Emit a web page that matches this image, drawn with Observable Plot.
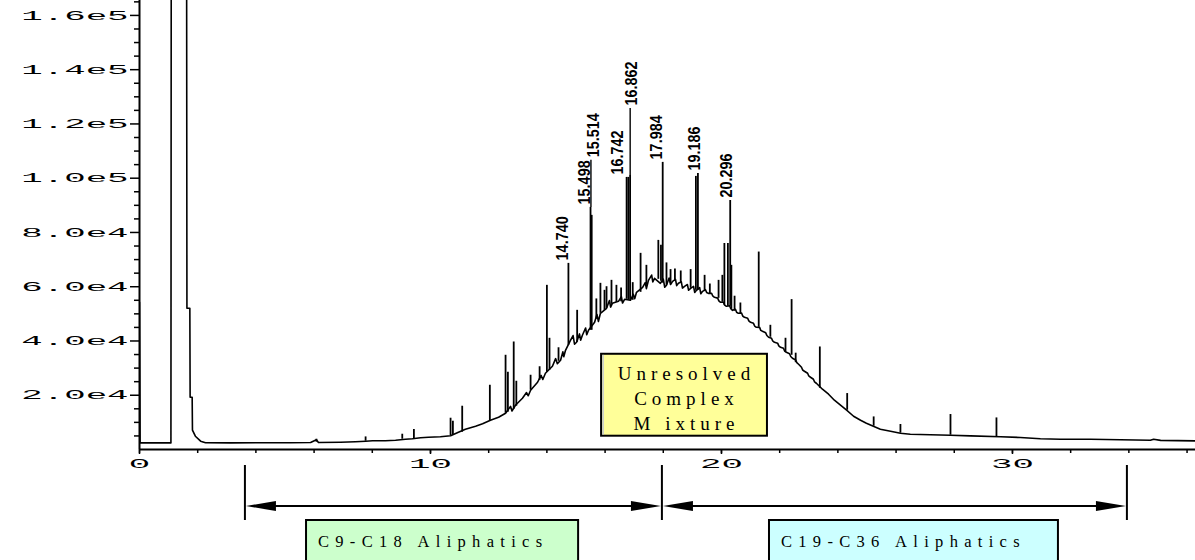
<!DOCTYPE html>
<html>
<head>
<meta charset="utf-8">
<script src="https://cdn.jsdelivr.net/npm/d3@7"></script>
<script src="https://cdn.jsdelivr.net/npm/@observablehq/plot@0.6"></script>
<style>
html, body { margin: 0; padding: 0; background: #fff; }
#wrap { position: relative; width: 1195px; height: 560px; overflow: hidden; }
</style>
</head>
<body>
<div id="wrap"></div>
<script>
// ---------------- DATA ----------------
// Chromatogram trace: retention time (min) and abundance
const traceRt = [0, 0.02, 0.38, 0.72, 1.08, 1.09, 1.62, 1.63, 1.73, 1.74,
  1.81, 1.82, 1.92, 2.10, 2.27, 3.13, 4.16, 5.19, 5.88, 6.08,
  6.15, 6.91, 7.42, 7.77, 8.01, 8.45, 8.80, 9.14, 9.38, 9.66,
  9.93, 10.34, 10.69, 10.96, 11.20, 11.55, 11.79, 12.06, 12.34, 12.58,
  12.75, 12.80, 12.92, 13.16, 13.30, 13.36, 13.44, 13.68, 13.80, 13.86,
  13.95, 14.19, 14.30, 14.36, 14.47, 14.55, 14.58, 14.64, 14.81, 14.90,
  14.95, 15.02, 15.12, 15.16, 15.22, 15.33, 15.37, 15.43, 15.64, 15.72,
  15.77, 15.84, 16.05, 16.15, 16.19, 16.25, 16.46, 16.56, 16.60, 16.67,
  16.87, 16.97, 17.02, 17.08, 17.29, 17.38, 17.42, 17.49, 17.60, 17.64,
  17.70, 17.90, 18.00, 18.05, 18.11, 18.20, 18.25, 18.32, 18.42, 18.46,
  18.52, 18.62, 18.66, 18.73, 18.83, 18.87, 18.94, 19.04, 19.08, 19.14,
  19.25, 19.29, 19.35, 19.45, 19.49, 19.55, 19.66, 19.70, 19.76, 19.87,
  19.91, 19.97, 20.07, 20.11, 20.17, 20.28, 20.32, 20.38, 20.48, 20.52,
  20.58, 20.69, 20.73, 20.79, 20.90, 20.94, 21.00, 21.10, 21.14, 21.20,
  21.31, 21.35, 21.41, 21.52, 21.56, 21.62, 21.72, 21.76, 21.82, 21.93,
  21.97, 22.03, 22.13, 22.17, 22.23, 22.34, 22.38, 22.44, 22.55, 22.59,
  22.65, 22.75, 22.79, 22.85, 22.96, 23.00, 23.06, 23.16, 23.20, 23.26,
  23.47, 23.68, 23.88, 24.09, 24.30, 24.54, 24.78, 24.98, 25.22, 25.46,
  25.81, 26.15, 26.49, 27.18, 27.87, 28.56, 29.59, 30.27, 30.96, 31.65,
  32.68, 33.71, 34.74, 34.85, 35.09, 36.29];
const traceAbund = [54250, 2430, 2500, 2430, 2430, 170000, 170000, 52040, 52040, 19260,
  19260, 7110, 4900, 3060, 2500, 2430, 2500, 2500, 2580, 3610,
  2580, 2690, 2870, 3060, 3240, 3240, 3430, 3790, 3980, 4350,
  4530, 4710, 5080, 6370, 7480, 8580, 9500, 10790, 11900, 13370,
  15900, 14200, 16320, 18890, 21000, 19800, 21840, 24790, 27300, 25800,
  28100, 30680, 33500, 31600, 32890, 36000, 34200, 36570, 40260, 42000,
  38800, 39520, 42600, 40300, 42100, 44800, 42300, 43940, 46880, 49800,
  47200, 50200, 52040, 54900, 52500, 53880, 54620, 56300, 54000, 55350,
  54990, 57200, 55600, 57930, 59780, 61500, 59300, 62350, 64300, 61800,
  63090, 61250, 62800, 59800, 60510, 63200, 60800, 61980, 62700, 60400,
  61250, 61800, 59500, 60140, 60800, 58700, 59410, 60100, 57900, 58670,
  59700, 57400, 58300, 58900, 57900, 57560, 57600, 56600, 56090, 55800,
  54800, 54250, 54300, 53200, 52780, 53000, 51900, 51300, 51700, 50600,
  50200, 50300, 49200, 48730, 48400, 47400, 46880, 46500, 45500, 45040,
  45000, 43900, 43570, 43000, 42000, 41360, 41000, 40000, 39520, 39200,
  38200, 37680, 37300, 36300, 35840, 35300, 34300, 33630, 33000, 32000,
  31420, 30300, 29300, 28840, 28100, 27100, 26630, 25900, 24900, 24420,
  22210, 20370, 18160, 16320, 14470, 12260, 10790, 9690, 8580, 7480,
  6740, 6000, 5630, 5450, 5270, 5010, 4710, 4420, 3980, 3790,
  3790, 3610, 3430, 3790, 3350, 3170];

// Resolved peaks standing on the hump: retention time, base and apex abundance
const spikeRt = [6.08, 7.77, 9.03, 9.43, 10.69, 10.77, 11.09, 12.04, 12.58, 12.66,
  12.86, 12.95, 13.44, 13.75, 14.00, 14.09, 14.40, 14.74, 15.04, 15.50,
  15.54, 15.70, 15.84, 15.98, 16.05, 16.22, 16.39, 16.55, 16.74, 16.80,
  16.86, 16.95, 17.22, 17.42, 17.83, 17.92, 17.98, 18.11, 18.25, 18.40,
  18.60, 18.94, 19.12, 19.19, 19.42, 19.60, 19.90, 20.03, 20.10, 20.22,
  20.30, 20.34, 20.45, 20.65, 21.28, 21.68, 22.20, 22.41, 22.55, 23.38,
  24.32, 25.23, 26.15, 27.87, 29.45];
const spikeBase = [2690, 3060, 3790, 3980, 5080, 5270, 6370, 10420, 13370, 13740,
  14840, 15950, 21840, 25500, 28470, 29210, 32500, 38410, 39520, 43940,
  43940, 48000, 50200, 51300, 52000, 53510, 54250, 54500, 55350, 54990,
  54990, 55000, 57930, 60520, 62730, 62030, 61300, 60520, 61250, 62000,
  61300, 59410, 58670, 58670, 58300, 57500, 55720, 54250, 53150, 52780,
  52780, 51670, 51000, 50000, 45040, 41360, 36000, 34730, 32000, 22580,
  14470, 8580, 6000, 5270, 4710];
const spikeTop = [3790, 4640, 5630, 7370, 11530, 10420, 15950, 23680, 34730, 28470,
  39630, 25150, 27370, 30500, 60510, 40990, 37500, 68600, 51300, 89240,
  86300, 55500, 61250, 58670, 60000, 62350, 60510, 59500, 100290, 100290,
  101020, 61500, 72300, 67880, 77080, 75240, 105830, 68780, 66310, 66500,
  65800, 66310, 100660, 101760, 64190, 61000, 62350, 64190, 75940, 75940,
  91790, 67880, 56500, 54000, 72780, 45780, 41000, 55250, 35500, 37790,
  20620, 12010, 9210, 12890, 11640];

// Labelled peaks
const peakLabels = ["14.740", "15.498", "15.514", "16.742", "16.862", "17.984", "19.186", "20.296"];
const peakRt = [14.740, 15.498, 15.514, 16.742, 16.862, 17.984, 19.186, 20.296];
const peakTop = [68600, 89240, 89240, 100290, 101020, 105830, 101760, 91790];
const labelLevel = [68600, 89240, 106600, 100290, 125700, 105830, 101760, 91790];

// Axis ticks
const yTickValues = [20000, 40000, 60000, 80000, 100000, 120000, 140000, 160000];
const yTickLabels = ["2.0e4", "4.0e4", "6.0e4", "8.0e4", "1.0e5", "1.2e5", "1.4e5", "1.6e5"];
const yMinorTicks = [5000, 10000, 15000, 25000, 30000, 35000, 45000, 50000, 55000, 65000, 70000, 75000,
  85000, 90000, 95000, 105000, 110000, 115000, 125000, 130000, 135000, 145000, 150000, 155000, 165000];
const xTickValues = [0, 10, 20, 30];
const xTickLabels = ["0", "10", "20", "30"];
const xMinorTicks = [0, 2, 4, 6, 8, 10, 12, 14, 16, 18, 20, 22, 24, 26, 28, 30, 32, 34, 36];

// Carbon range annotations (retention-time bounds)
const rangeNames = ["C9-C18 Aliphatics", "C19-C36 Aliphatics"];
const rangeStart = [3.64, 17.97];
const rangeEnd = [17.97, 33.95];
const rangeBoxStart = [5.74, 21.65];
const rangeBoxEnd = [15.09, 31.58];
const rangeFill = ["#ccffcc", "#ccffff"];
const ucmLines = ["Unresolved", "Complex", "M ixture"];
const ucmRtStart = 15.88, ucmRtEnd = 21.58, ucmHigh = 35100, ucmLow = 4900;

// ---------------- BUILD ----------------
const trace = traceRt.map((t, i) => ({t, a: traceAbund[i]}));
const spikes = spikeRt.map((t, i) => ({t, b: spikeBase[i], a: spikeTop[i]}));
const peaks = peakLabels.map((label, i) => ({label, t: peakRt[i], top: peakTop[i], lv: labelLevel[i]}));
const labelNudge = {"15.514": 8, "16.862": 7, "16.742": -4, "17.984": -1, "19.186": 2, "20.296": 2};

const axisFont = "Liberation Mono, DejaVu Sans Mono, monospace";
const peakFont = "Liberation Sans, Arial, sans-serif";

const chart = Plot.plot({
  width: 1195,
  height: 560,
  marginLeft: 139,
  marginRight: 0,
  marginTop: 0,
  marginBottom: 111,
  style: {background: "white", color: "black", overflow: "hidden"},
  x: {domain: [0, 36.29]},
  y: {domain: [0, 165500]},
  marks: [
    Plot.axisX({ticks: xMinorTicks, tickSize: 4, tickFormat: () => "", label: null, strokeWidth: 1.5}),
    Plot.axisX({ticks: xTickValues, tickSize: 5, tickPadding: 4, tickFormat: d => xTickLabels[xTickValues.indexOf(d)], label: null, strokeWidth: 1.5, fontSize: 13}),
    Plot.axisY({ticks: yMinorTicks, tickSize: 5, tickFormat: () => "", label: null, strokeWidth: 1.5}),
    Plot.axisY({ticks: yTickValues, tickSize: 9, tickPadding: 2, tickFormat: d => yTickLabels[yTickValues.indexOf(d)], label: null, strokeWidth: 1.5, fontSize: 13}),
    Plot.ruleY([0], {stroke: "black", strokeWidth: 2}),
    Plot.ruleX([0], {stroke: "black", strokeWidth: 2}),
    Plot.ruleX(spikes, {x: "t", y1: "b", y2: "a", stroke: "black", strokeWidth: 1.8, clip: true}),
    Plot.line(trace, {x: "t", y: "a", stroke: "black", strokeWidth: 1.6, clip: true}),
    Plot.ruleX(peaks.filter(d => d.lv > d.top), {x: "t", y1: "top", y2: "lv", stroke: "black", strokeWidth: 1.4}),
    ...peaks.map(p => Plot.text([p], {
      x: "t", y: "lv", text: "label", rotate: -90, textAnchor: "start", lineAnchor: "bottom",
      dx: labelNudge[p.label] || 0, dy: -3, fontSize: 16, fontWeight: "bold", fontFamily: peakFont, fill: "black"
    }))
  ]
});

document.getElementById("wrap").appendChild(chart);

// stretch axis tick labels horizontally (wide plotter-style lettering)
function stretch(el, sx) {
  const t = el.getAttribute("transform") || "";
  const x = parseFloat(el.getAttribute("x")) || 0;
  el.setAttribute("transform", `${t} translate(${x},0) scale(${sx},1) translate(${-x},0)`);
}
d3.select(chart).selectAll('[aria-label^="y-axis"] text, [aria-label^="x-axis"] text').each(function() {
  this.style.fontFamily = axisFont;
  this.style.fontSize = "13px";
  stretch(this, 2.75);
});
// condense the rotated peak labels along their length
d3.select(chart).selectAll("text").each(function() {
  const t = this.getAttribute("transform") || "";
  if (t.includes("rotate(-90)")) this.setAttribute("transform", t + " scale(0.9,1)");
});

// ---------------- ANNOTATIONS (positioned through Plot's scales) ----------------
const X = chart.scale("x"), Y = chart.scale("y");
const svg = d3.select(chart);
const ann = svg.append("g").attr("class", "annotations").attr("text-anchor", "start");

// UCM box
const ux1 = X.apply(ucmRtStart), ux2 = X.apply(ucmRtEnd);
const uy1 = Y.apply(ucmHigh), uy2 = Y.apply(ucmLow);
ann.append("rect").attr("x", ux1).attr("y", uy1).attr("width", ux2 - ux1).attr("height", uy2 - uy1)
  .attr("fill", "#ffff99").attr("stroke", "black").attr("stroke-width", 2);
ann.append("line").attr("x1", ux1 + 2).attr("x2", ux1 + 2).attr("y1", uy1 + 1).attr("y2", uy2 - 1)
  .attr("stroke", "#aab0ee").attr("stroke-width", 1);
const ucmLs = 5;
ucmLines.forEach((s, i) => {
  ann.append("text")
    .attr("x", (ux1 + ux2) / 2 + ucmLs / 2)
    .attr("y", uy1 + 26 + i * 25)
    .attr("text-anchor", "middle")
    .attr("font-family", "Liberation Serif, Times New Roman, serif")
    .attr("font-size", 19)
    .attr("letter-spacing", ucmLs)
    .attr("fill", "black")
    .text(s);
});

// Range brackets with double-headed arrows
const bTop = 465, bBot = 520, bArrow = 506;
const bracketTicks = Array.from(new Set([...rangeStart, ...rangeEnd]));
bracketTicks.forEach(t => {
  ann.append("line").attr("x1", X.apply(t)).attr("x2", X.apply(t)).attr("y1", bTop).attr("y2", bBot)
    .attr("stroke", "black").attr("stroke-width", 2);
});
rangeNames.forEach((name, i) => {
  const x1 = X.apply(rangeStart[i]) + 1, x2 = X.apply(rangeEnd[i]) - 1;
  ann.append("line").attr("x1", x1 + 20).attr("x2", x2 - 20).attr("y1", bArrow).attr("y2", bArrow)
    .attr("stroke", "black").attr("stroke-width", 2);
  ann.append("path").attr("d", `M${x1},${bArrow}L${x1 + 30},${bArrow - 5}L${x1 + 30},${bArrow + 5}Z`).attr("fill", "black");
  ann.append("path").attr("d", `M${x2},${bArrow}L${x2 - 30},${bArrow - 5}L${x2 - 30},${bArrow + 5}Z`).attr("fill", "black");
  const rx1 = X.apply(rangeBoxStart[i]), rx2 = X.apply(rangeBoxEnd[i]);
  ann.append("rect").attr("x", rx1).attr("y", 520).attr("width", rx2 - rx1).attr("height", 50)
    .attr("fill", rangeFill[i]).attr("stroke", "black").attr("stroke-width", 2);
  ann.append("text").attr("x", rx1 + 12).attr("y", 547)
    .attr("text-anchor", "start")
    .attr("font-family", "Liberation Serif, Times New Roman, serif")
    .attr("font-size", 16.5)
    .attr("letter-spacing", 6.3)
    .attr("fill", "black")
    .text(name);
});
</script>
</body>
</html>
